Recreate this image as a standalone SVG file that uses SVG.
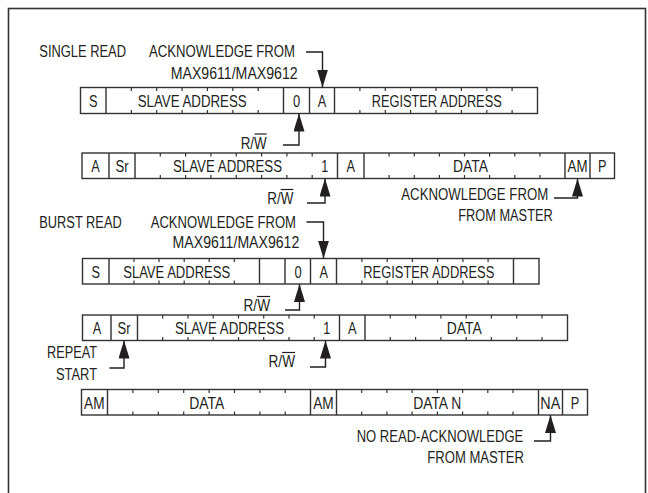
<svg xmlns="http://www.w3.org/2000/svg" width="648" height="493" viewBox="0 0 648 493">
<defs>
<style>
text{font-family:"Liberation Sans",Arial,sans-serif;font-size:16px;fill:#231f20}
.c{text-anchor:middle}
.e{text-anchor:end}
.box{fill:#fff;stroke:#333;stroke-width:1.4}
.div{fill:none;stroke:#333;stroke-width:1.4}
.tick{fill:none;stroke:#333;stroke-width:1.2}
.con{fill:none;stroke:#231f20;stroke-width:1.4;marker-end:url(#ah)}
.ov{fill:none;stroke:#231f20;stroke-width:1.2}
</style>
<marker id="ah" markerUnits="userSpaceOnUse" viewBox="0 0 18 11" markerWidth="18" markerHeight="11" refX="18" refY="5.5" orient="auto">
<path d="M0,0 L18,5.5 L0,11 Z" fill="#231f20"/>
</marker>
</defs>
<rect x="8.5" y="8.5" width="637" height="520" fill="#fff" stroke="#333" stroke-width="1.6"/>

<g id="labels">
<text x="39.3" y="56.5" textLength="86.7" lengthAdjust="spacingAndGlyphs">SINGLE READ</text>
<text class="e" x="295" y="56.5" textLength="146" lengthAdjust="spacingAndGlyphs">ACKNOWLEDGE FROM</text>
<text class="e" x="297.7" y="78.5" textLength="127" lengthAdjust="spacingAndGlyphs">MAX9611/MAX9612</text>
<g id="rw1"><text class="e" x="266.7" y="148.5" textLength="26" lengthAdjust="spacingAndGlyphs">R/W</text><path class="ov" d="M254.3,134H266.7"/></g>
<g id="rw2"><text class="e" x="293.3" y="204" textLength="26" lengthAdjust="spacingAndGlyphs">R/W</text><path class="ov" d="M280.7,189.5H293.3"/></g>
<text class="e" x="548.3" y="199.5" textLength="147" lengthAdjust="spacingAndGlyphs">ACKNOWLEDGE FROM</text>
<text class="e" x="552.7" y="221" textLength="94.4" lengthAdjust="spacingAndGlyphs">FROM MASTER</text>
<text x="39.3" y="227.5" textLength="82.4" lengthAdjust="spacingAndGlyphs">BURST READ</text>
<text class="e" x="296" y="227.5" textLength="145.3" lengthAdjust="spacingAndGlyphs">ACKNOWLEDGE FROM</text>
<text class="e" x="299.3" y="248" textLength="126.7" lengthAdjust="spacingAndGlyphs">MAX9611/MAX9612</text>
<g id="rw3"><text class="e" x="270" y="311" textLength="26.5" lengthAdjust="spacingAndGlyphs">R/W</text><path class="ov" d="M257.1,296.5H270"/></g>
<text class="e" x="97" y="358" textLength="50" lengthAdjust="spacingAndGlyphs">REPEAT</text>
<text class="e" x="97" y="380" textLength="41" lengthAdjust="spacingAndGlyphs">START</text>
<g id="rw4"><text class="e" x="295" y="367" textLength="26.5" lengthAdjust="spacingAndGlyphs">R/W</text><path class="ov" d="M282.1,352.5H295"/></g>
<text class="e" x="523.3" y="441.7" textLength="166.6" lengthAdjust="spacingAndGlyphs">NO READ-ACKNOWLEDGE</text>
<text class="e" x="524" y="463.3" textLength="96.7" lengthAdjust="spacingAndGlyphs">FROM MASTER</text>
</g>

<g id="row1-single-write">
<rect class="box" x="80.5" y="87.5" width="457" height="26"/>
<path class="div" d="M106,87.5V113.5M283.5,87.5V113.5M309.5,87.5V113.5M334.5,87.5V113.5"/>
<path class="tick" d="M131.4,87.5v3.5M131.4,113.5v-3.5M156.7,87.5v3.5M156.7,113.5v-3.5M182.1,87.5v3.5M182.1,113.5v-3.5M207.4,87.5v3.5M207.4,113.5v-3.5M232.8,87.5v3.5M232.8,113.5v-3.5M258.2,87.5v3.5M258.2,113.5v-3.5M359.9,87.5v3.5M359.9,113.5v-3.5M385.3,87.5v3.5M385.3,113.5v-3.5M410.6,87.5v3.5M410.6,113.5v-3.5M436,87.5v3.5M436,113.5v-3.5M461.4,87.5v3.5M461.4,113.5v-3.5M486.8,87.5v3.5M486.8,113.5v-3.5M512.1,87.5v3.5M512.1,113.5v-3.5"/>
<text class="c" x="93.3" y="107.3" textLength="8.5" lengthAdjust="spacingAndGlyphs">S</text>
<text class="c" x="192.2" y="107.3" textLength="109" lengthAdjust="spacingAndGlyphs">SLAVE ADDRESS</text>
<text class="c" x="296.5" y="107.3" textLength="7.2" lengthAdjust="spacingAndGlyphs">0</text>
<text class="c" x="322" y="107.3" textLength="8.5" lengthAdjust="spacingAndGlyphs">A</text>
<text class="c" x="436.7" y="107.3" textLength="130" lengthAdjust="spacingAndGlyphs">REGISTER ADDRESS</text>
</g>

<g id="row2-single-read">
<rect class="box" x="82" y="153" width="532.5" height="25.5"/>
<path class="div" d="M109,153V178.5M135,153V178.5M337.5,153V178.5M364,153V178.5M565,153V178.5M590,153V178.5"/>
<path class="tick" d="M160.3,153v3.5M160.3,178.5v-3.5M185.6,153v3.5M185.6,178.5v-3.5M210.9,153v3.5M210.9,178.5v-3.5M236.2,153v3.5M236.2,178.5v-3.5M261.6,153v3.5M261.6,178.5v-3.5M286.9,153v3.5M286.9,178.5v-3.5M312.2,153v3.5M312.2,178.5v-3.5M389.1,153v3.5M389.1,178.5v-3.5M414.3,153v3.5M414.3,178.5v-3.5M439.4,153v3.5M439.4,178.5v-3.5M464.5,153v3.5M464.5,178.5v-3.5M489.6,153v3.5M489.6,178.5v-3.5M514.8,153v3.5M514.8,178.5v-3.5M539.9,153v3.5M539.9,178.5v-3.5"/>
<text class="c" x="95.5" y="172.3" textLength="8.5" lengthAdjust="spacingAndGlyphs">A</text>
<text class="c" x="122" y="172.3" textLength="13" lengthAdjust="spacingAndGlyphs">Sr</text>
<text class="c" x="227.5" y="172.3" textLength="109" lengthAdjust="spacingAndGlyphs">SLAVE ADDRESS</text>
<text class="c" x="324.8" y="172.3" textLength="7" lengthAdjust="spacingAndGlyphs">1</text>
<text class="c" x="350.7" y="172.3" textLength="8.5" lengthAdjust="spacingAndGlyphs">A</text>
<text class="c" x="470.5" y="172.3" textLength="35" lengthAdjust="spacingAndGlyphs">DATA</text>
<text class="c" x="577.5" y="172.3" textLength="20" lengthAdjust="spacingAndGlyphs">AM</text>
<text class="c" x="602.3" y="172.3" textLength="8.5" lengthAdjust="spacingAndGlyphs">P</text>
</g>

<g id="row3-burst-write">
<rect class="box" x="82.5" y="258.5" width="456.5" height="25.5"/>
<path class="div" d="M109,258.5V284M259.5,258.5V284M285,258.5V284M310.5,258.5V284M336.5,258.5V284M513.5,258.5V284"/>
<path class="tick" d="M134,258.5v3.5M134,284v-3.5M159,258.5v3.5M159,284v-3.5M184.2,258.5v3.5M184.2,284v-3.5M209.2,258.5v3.5M209.2,284v-3.5M234.3,258.5v3.5M234.3,284v-3.5M361.9,258.5v3.5M361.9,284v-3.5M387.2,258.5v3.5M387.2,284v-3.5M412.4,258.5v3.5M412.4,284v-3.5M437.6,258.5v3.5M437.6,284v-3.5M462.9,258.5v3.5M462.9,284v-3.5M488.1,258.5v3.5M488.1,284v-3.5"/>
<text class="c" x="95.8" y="277.5" textLength="8.5" lengthAdjust="spacingAndGlyphs">S</text>
<text class="c" x="176.7" y="277.5" textLength="107" lengthAdjust="spacingAndGlyphs">SLAVE ADDRESS</text>
<text class="c" x="298" y="277.5" textLength="7.2" lengthAdjust="spacingAndGlyphs">0</text>
<text class="c" x="323.7" y="277.5" textLength="8.5" lengthAdjust="spacingAndGlyphs">A</text>
<text class="c" x="428.8" y="277.5" textLength="131" lengthAdjust="spacingAndGlyphs">REGISTER ADDRESS</text>
</g>

<g id="row4-burst-read">
<rect class="box" x="82.5" y="315" width="485" height="25.5"/>
<path class="div" d="M111,315V340.5M137.5,315V340.5M339.5,315V340.5M365,315V340.5"/>
<path class="tick" d="M162.7,315v3.5M162.7,340.5v-3.5M188,315v3.5M188,340.5v-3.5M213.2,315v3.5M213.2,340.5v-3.5M238.5,315v3.5M238.5,340.5v-3.5M263.7,315v3.5M263.7,340.5v-3.5M289,315v3.5M289,340.5v-3.5M314.2,315v3.5M314.2,340.5v-3.5M390.3,315v3.5M390.3,340.5v-3.5M415.6,315v3.5M415.6,340.5v-3.5M440.9,315v3.5M440.9,340.5v-3.5M466.2,315v3.5M466.2,340.5v-3.5M491.4,315v3.5M491.4,340.5v-3.5M516.7,315v3.5M516.7,340.5v-3.5M542,315v3.5M542,340.5v-3.5"/>
<text class="c" x="97" y="334" textLength="8.5" lengthAdjust="spacingAndGlyphs">A</text>
<text class="c" x="124" y="334" textLength="13" lengthAdjust="spacingAndGlyphs">Sr</text>
<text class="c" x="229.5" y="334" textLength="109" lengthAdjust="spacingAndGlyphs">SLAVE ADDRESS</text>
<text class="c" x="326.8" y="334" textLength="7" lengthAdjust="spacingAndGlyphs">1</text>
<text class="c" x="352.2" y="334" textLength="8.5" lengthAdjust="spacingAndGlyphs">A</text>
<text class="c" x="464.2" y="334" textLength="35" lengthAdjust="spacingAndGlyphs">DATA</text>
</g>

<g id="row5-burst-data">
<rect class="box" x="81.5" y="389.5" width="506" height="25.5"/>
<path class="div" d="M107.5,389.5V415M310.5,389.5V415M336.5,389.5V415M538.5,389.5V415M562.5,389.5V415"/>
<path class="tick" d="M132.9,389.5v3.5M132.9,415v-3.5M158.3,389.5v3.5M158.3,415v-3.5M183.7,389.5v3.5M183.7,415v-3.5M209.1,389.5v3.5M209.1,415v-3.5M234.5,389.5v3.5M234.5,415v-3.5M259.9,389.5v3.5M259.9,415v-3.5M285.2,389.5v3.5M285.2,415v-3.5M361.7,389.5v3.5M361.7,415v-3.5M386.9,389.5v3.5M386.9,415v-3.5M412.1,389.5v3.5M412.1,415v-3.5M437.4,389.5v3.5M437.4,415v-3.5M462.6,389.5v3.5M462.6,415v-3.5M487.8,389.5v3.5M487.8,415v-3.5M513,389.5v3.5M513,415v-3.5"/>
<text class="c" x="94.3" y="408.5" textLength="20.5" lengthAdjust="spacingAndGlyphs">AM</text>
<text class="c" x="206.7" y="408.5" textLength="35" lengthAdjust="spacingAndGlyphs">DATA</text>
<text class="c" x="323.5" y="408.5" textLength="20.5" lengthAdjust="spacingAndGlyphs">AM</text>
<text class="c" x="437.2" y="408.5" textLength="48" lengthAdjust="spacingAndGlyphs">DATA N</text>
<text class="c" x="550.3" y="408.5" textLength="20" lengthAdjust="spacingAndGlyphs">NA</text>
<text class="c" x="575" y="408.5" textLength="8.5" lengthAdjust="spacingAndGlyphs">P</text>
</g>

<g id="connectors">
<path class="con" d="M306,52H322.5V87.5"/>
<path class="con" d="M283,145H299V113.5"/>
<path class="con" d="M307,203H325V178.5"/>
<path class="con" d="M554,198H577.5V178.5"/>
<path class="con" d="M306.5,222H323.5V258.5"/>
<path class="con" d="M285,310H299.5V284"/>
<path class="con" d="M109.5,368H124V340.5"/>
<path class="con" d="M310,367H325.5V340.5"/>
<path class="con" d="M534,441H550.5V415"/>
</g>
</svg>
